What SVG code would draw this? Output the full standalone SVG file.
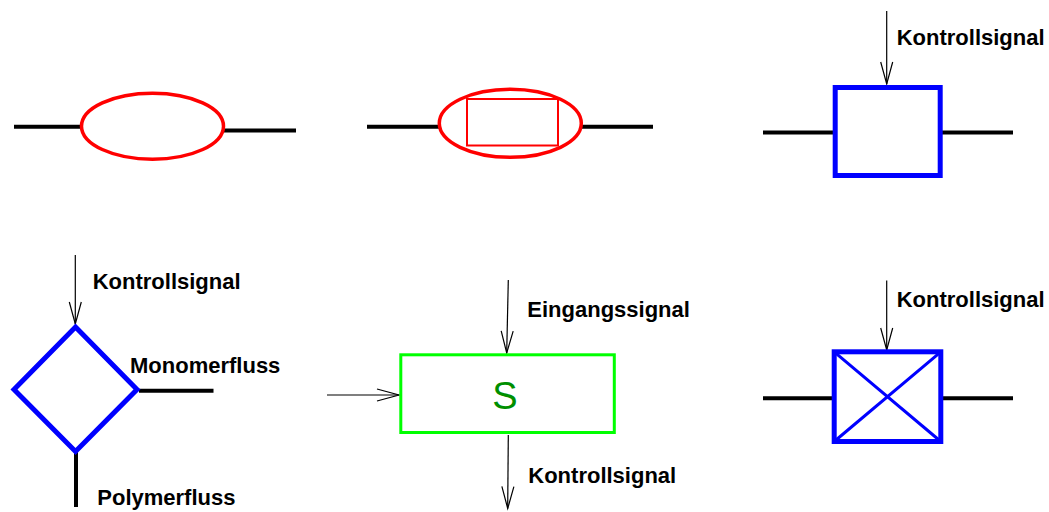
<svg xmlns="http://www.w3.org/2000/svg" width="1049" height="512" viewBox="0 0 1049 512">
<style>
.flow{stroke:#000;stroke-width:4;fill:none}
.sig{stroke:#000;stroke-width:1.2;fill:none}
.lbl{font-family:"Liberation Sans",Arial,sans-serif;font-weight:bold;font-size:22px;fill:#000}
.red{stroke:#ff0000;fill:none}
.blue{stroke:#0000ff;fill:none}
</style>
<defs>
<marker id="open" markerUnits="userSpaceOnUse" markerWidth="26" markerHeight="16" viewBox="-23 -7 26 14" refX="0" refY="0" orient="auto">
<polyline points="-22,-6 0,0 -22,6" fill="none" stroke="#000" stroke-width="1.2"/>
</marker>
</defs>
<rect width="1049" height="512" fill="#fff"/>
<g id="connectors">
<line class="flow" x1="14" y1="126.7" x2="81" y2="126.7"/>
<line class="flow" x1="224" y1="130.5" x2="296" y2="130.5"/>
<line class="flow" x1="367" y1="126.7" x2="439" y2="126.7"/>
<line class="flow" x1="581" y1="126.7" x2="653" y2="126.7"/>
<line class="flow" x1="763" y1="132.5" x2="834" y2="132.5"/>
<line class="flow" x1="941" y1="132.5" x2="1013" y2="132.5"/>
<line class="sig" x1="886.7" y1="11" x2="886.7" y2="84" marker-end="url(#open)"/>
<line class="sig" x1="75.3" y1="255" x2="75.3" y2="324" marker-end="url(#open)"/>
<line class="flow" x1="139" y1="390.7" x2="213.5" y2="390.7"/>
<line class="flow" x1="76" y1="452" x2="76" y2="507"/>
<line class="sig" x1="508.3" y1="280" x2="506.7" y2="353" marker-end="url(#open)"/>
<line class="sig" x1="327" y1="395" x2="399" y2="395" marker-end="url(#open)"/>
<line class="sig" x1="508.3" y1="435" x2="507.7" y2="508.5" marker-end="url(#open)"/>
<line class="sig" x1="886.7" y1="280.5" x2="886.7" y2="350" marker-end="url(#open)"/>
<line class="flow" x1="763" y1="398.3" x2="834" y2="398.3"/>
<line class="flow" x1="941" y1="398.3" x2="1013" y2="398.3"/>
</g>
<g id="node-ellipse">
<ellipse class="red" cx="152.5" cy="126.2" rx="71" ry="33" stroke-width="3.5"/>
</g>
<g id="node-ellipse-rect">
<ellipse class="red" cx="510.3" cy="123.3" rx="71" ry="34" stroke-width="3.5"/>
<rect class="red" x="467" y="99" width="91" height="46.5" stroke-width="2"/>
</g>
<g id="node-valve">
<rect class="blue" x="835.2" y="87.5" width="105" height="88" stroke-width="5"/>
<text class="lbl" x="896.7" y="45">Kontrollsignal</text>
</g>
<g id="node-diamond">
<polygon class="blue" points="75.5,327 137,389.5 75.5,451.5 14,389.5" stroke-width="5"/>
<text class="lbl" x="92.7" y="289.3">Kontrollsignal</text>
<text class="lbl" x="130" y="373.3">Monomerfluss</text>
<text class="lbl" x="97.3" y="505">Polymerfluss</text>
</g>
<g id="node-s">
<rect x="400.8" y="354.8" width="213.5" height="77.7" fill="none" stroke="#00ff00" stroke-width="3"/>
<text x="505" y="409.3" text-anchor="middle" font-family="'Liberation Sans',Arial,sans-serif" font-size="38" fill="#008f00">S</text>
<text class="lbl" x="527.3" y="316.7">Eingangssignal</text>
<text class="lbl" x="528.3" y="483.3">Kontrollsignal</text>
</g>
<g id="node-crossvalve">
<rect class="blue" x="834.2" y="351.8" width="106.6" height="89.7" stroke-width="5"/>
<line class="blue" x1="834.2" y1="351.8" x2="940.8" y2="441.5" stroke-width="3"/>
<line class="blue" x1="940.8" y1="351.8" x2="834.2" y2="441.5" stroke-width="3"/>
<text class="lbl" x="896.7" y="307.3">Kontrollsignal</text>
</g>
</svg>
